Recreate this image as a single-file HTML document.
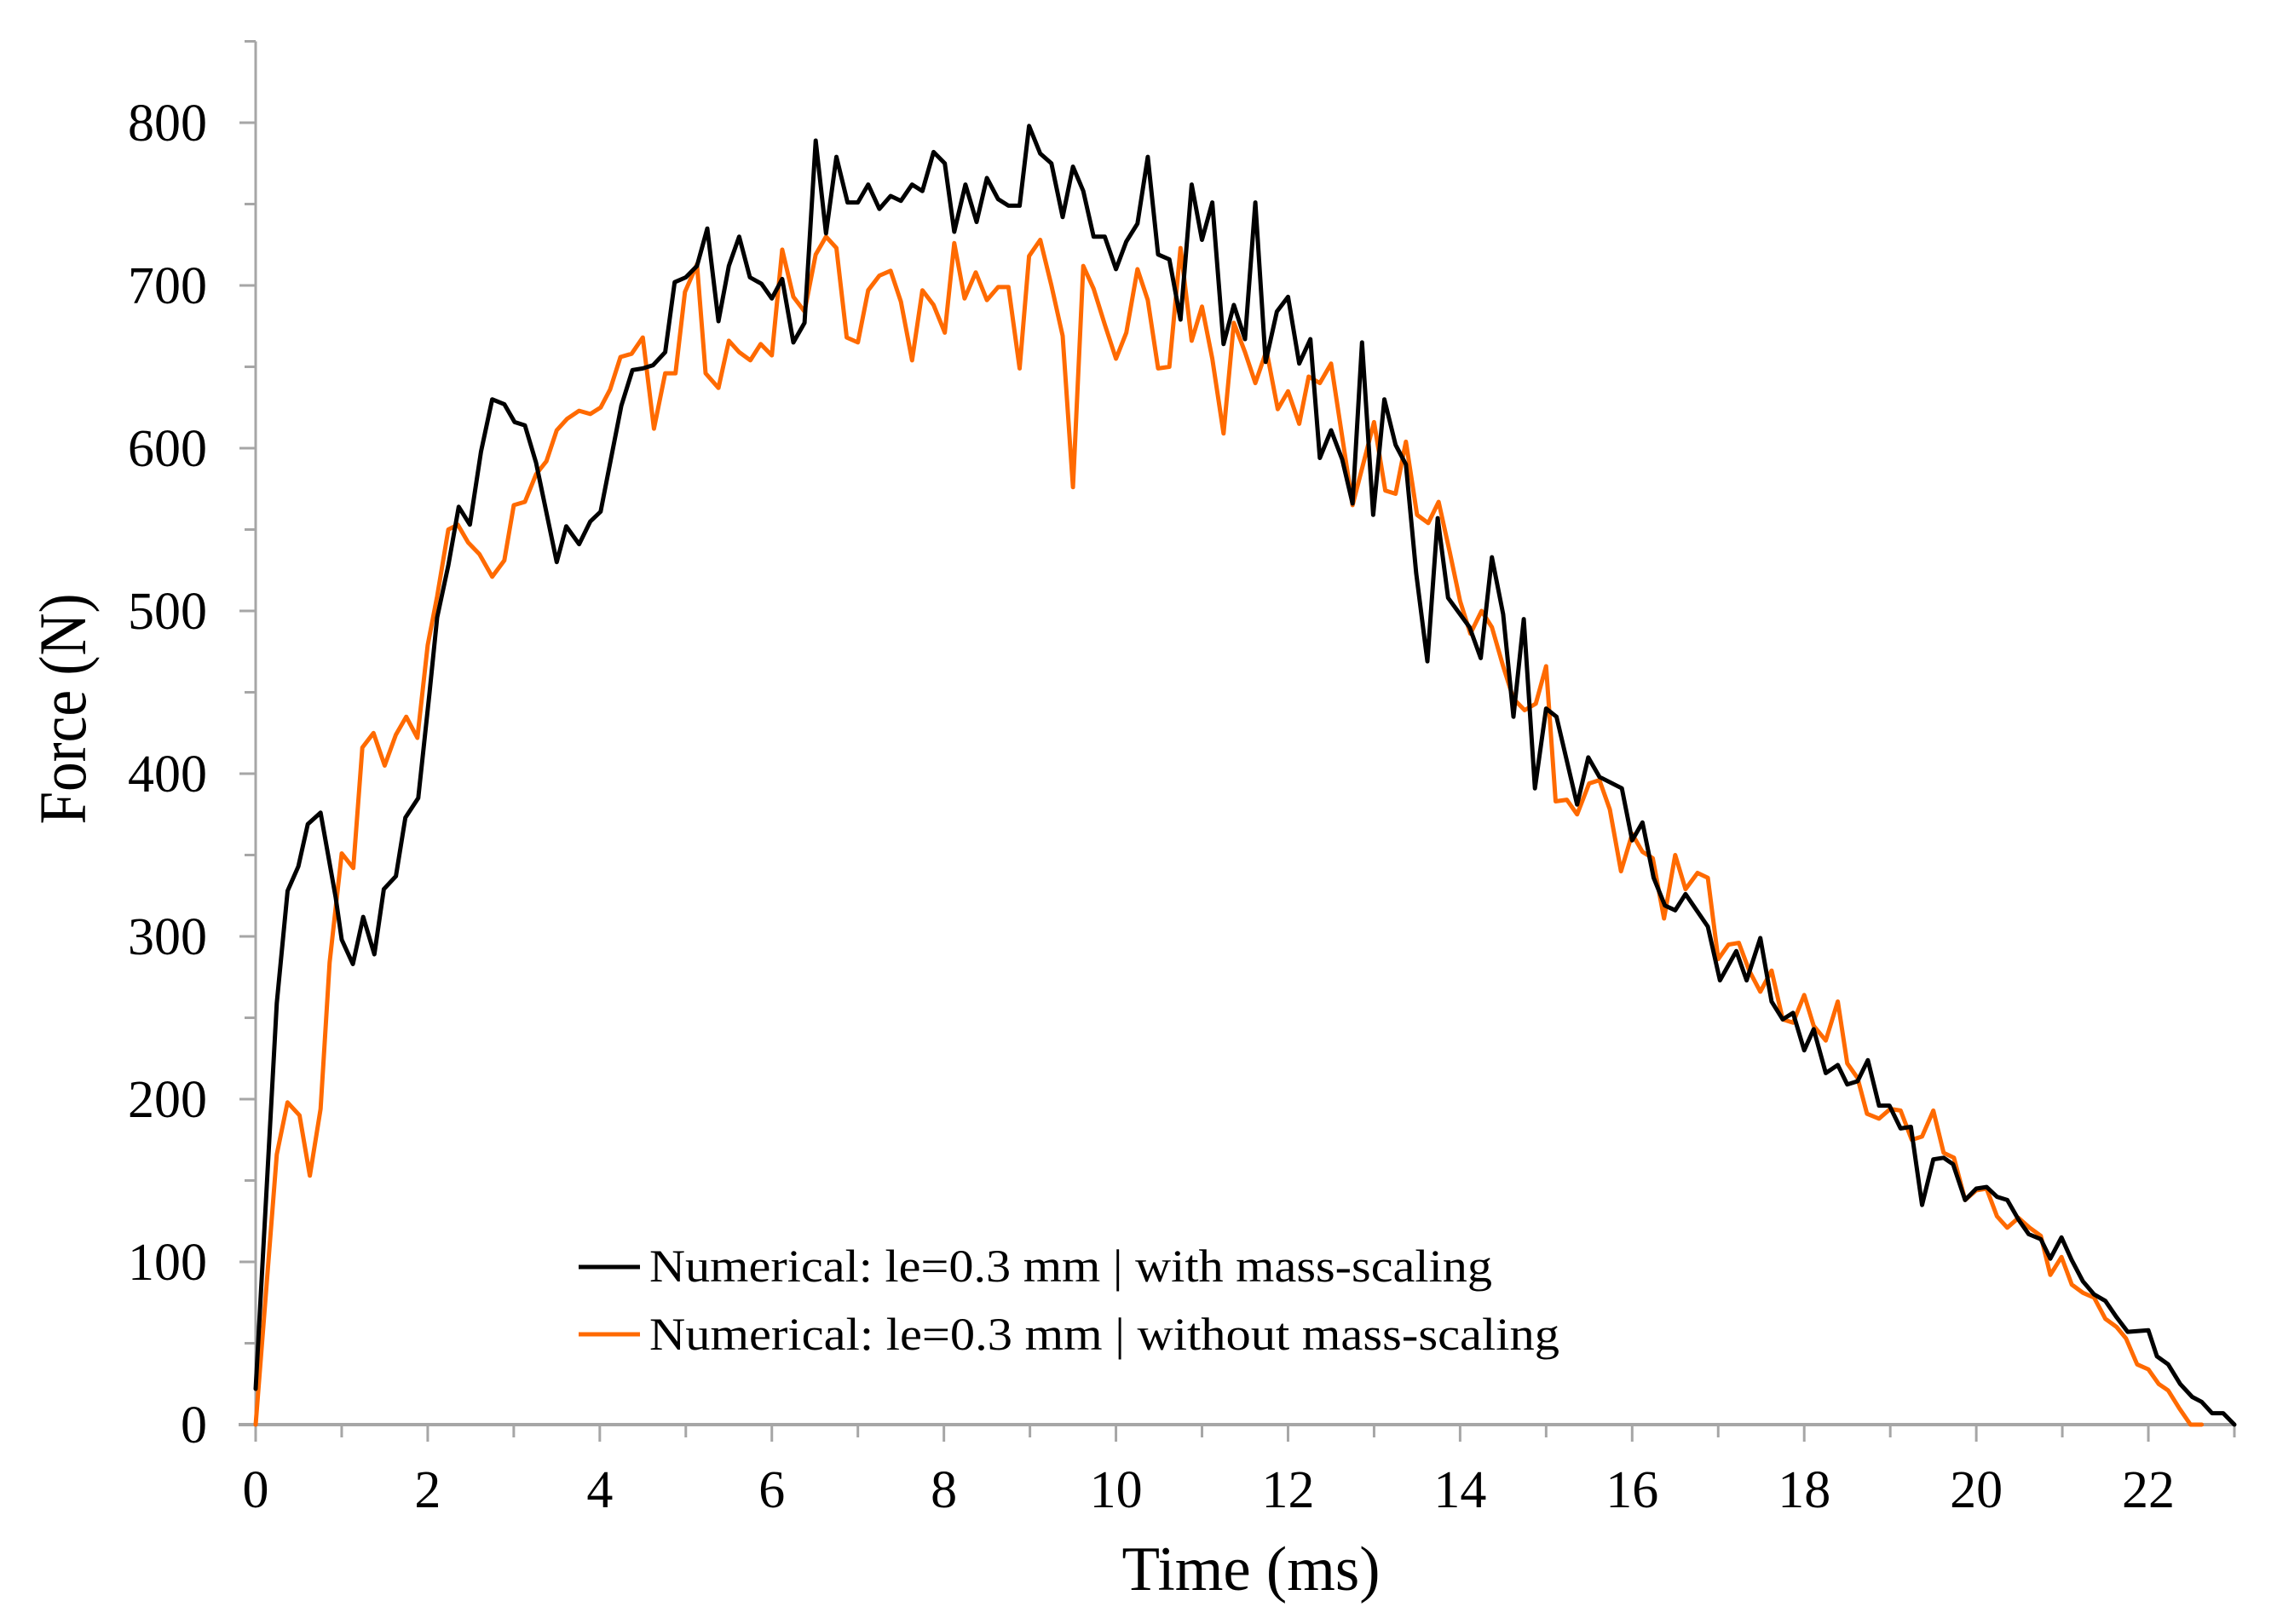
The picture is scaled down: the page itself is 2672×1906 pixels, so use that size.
<!DOCTYPE html>
<html><head><meta charset="utf-8"><style>
html,body{margin:0;padding:0;background:#fff;}
svg{display:block;font-family:"Liberation Serif",serif;}
</style></head><body>
<svg id="chart" width="2672" height="1906" viewBox="0 0 2672 1906" xmlns="http://www.w3.org/2000/svg">
<rect width="2672" height="1906" fill="#fff"/>
<g id="axes"></g>
<g id="series"></g>
<text x="1468" y="1866" font-size="74" text-anchor="middle" textLength="303" lengthAdjust="spacingAndGlyphs">Time (ms)</text>
<text transform="translate(100,832) rotate(-90)" font-size="78" text-anchor="middle" textLength="271" lengthAdjust="spacingAndGlyphs">Force (N)</text>
<g>
<line x1="679" y1="1487" x2="751" y2="1487" stroke="#000" stroke-width="5"/>
<text x="762" y="1504" font-size="54" textLength="989" lengthAdjust="spacingAndGlyphs">Numerical: le=0.3 mm | with mass-scaling</text>
<line x1="679" y1="1566" x2="751" y2="1566" stroke="#ff6a00" stroke-width="5"/>
<text x="762" y="1584" font-size="54" textLength="1068" lengthAdjust="spacingAndGlyphs">Numerical: le=0.3 mm | without mass-scaling</text>
</g>
</svg>
<script>
const xTicks = [0,2,4,6,8,10,12,14,16,18,20,22];
const yTicks = [0,100,200,300,400,500,600,700,800];
const blackT = [0,0.246,0.371,0.496,0.606,0.755,0.93,1.0,1.13,1.25,1.38,1.49,1.63,1.74,1.89,2.02,2.11,2.24,2.36,2.49,2.62,2.75,2.89,3.01,3.13,3.26,3.5,3.61,3.76,3.89,4.01,4.25,4.38,4.5,4.62,4.76,4.87,5.0,5.13,5.25,5.38,5.5,5.62,5.745,5.88,6.0,6.12,6.25,6.38,6.51,6.63,6.75,6.88,7.0,7.12,7.25,7.38,7.5,7.63,7.75,7.88,8.01,8.12,8.25,8.38,8.5,8.63,8.75,8.88,8.99,9.12,9.25,9.38,9.5,9.62,9.74,9.87,10.0,10.12,10.25,10.37,10.49,10.62,10.75,10.88,11.0,11.12,11.25,11.37,11.5,11.62,11.74,11.87,12.0,12.13,12.26,12.37,12.5,12.63,12.75,12.86,12.99,13.12,13.25,13.37,13.49,13.62,13.74,13.86,14.11,14.24,14.37,14.5,14.62,14.74,14.87,15.0,15.12,15.36,15.49,15.62,15.88,16.0,16.12,16.25,16.38,16.5,16.62,16.75,16.88,17.02,17.21,17.33,17.49,17.62,17.75,17.87,18.0,18.11,18.25,18.39,18.5,18.62,18.74,18.87,18.99,19.12,19.24,19.37,19.5,19.62,19.73,19.87,20.0,20.12,20.24,20.36,20.49,20.61,20.75,20.86,20.99,21.11,21.24,21.37,21.5,21.63,21.76,22.0,22.1,22.23,22.37,22.51,22.62,22.74,22.87,23.0];
const blackF = [22,259,328,343,369,376,324,298,283,312,289,329,337,373,385,449,496,528,564,553,598,630,627,616,614,591,530,552,541,555,561,626,648,649,651,659,702,705,712,735,678,712,730,705,701,692,704,665,677,789,732,779,751,751,762,747,755,752,762,758,782,775,733,762,739,766,753,749,749,798,781,775,742,773,758,730,730,710,727,738,779,719,716,679,762,728,751,664,688,667,751,653,684,693,652,667,594,611,593,566,665,559,630,602,590,523,469,557,508,490,471,533,498,435,495,391,440,435,381,410,398,391,359,370,336,319,316,326,316,306,273,291,273,299,260,249,253,230,243,216,221,209,211,224,196,196,182,183,135,163,164,160,138,145,146,140,138,126,117,114,102,115,101,88,80,76,66,57,58,42,37,25,17,14,7,7,0];
const orangeT = [0,0.246,0.37,0.51,0.63,0.755,0.86,1.0,1.135,1.24,1.37,1.5,1.63,1.75,1.88,2.0,2.11,2.24,2.35,2.47,2.6,2.75,2.89,3.0,3.13,3.26,3.38,3.5,3.62,3.76,3.89,4.01,4.12,4.24,4.37,4.5,4.63,4.76,4.88,4.99,5.13,5.23,5.38,5.5,5.62,5.75,5.87,6.0,6.12,6.25,6.38,6.51,6.63,6.75,6.87,7.0,7.12,7.25,7.38,7.5,7.63,7.75,7.88,8.01,8.12,8.24,8.37,8.5,8.63,8.75,8.88,8.99,9.12,9.25,9.38,9.5,9.62,9.74,9.87,10.0,10.12,10.25,10.37,10.49,10.62,10.75,10.88,11.0,11.12,11.25,11.37,11.5,11.62,11.75,11.88,12.0,12.13,12.24,12.37,12.5,12.75,13.0,13.13,13.25,13.37,13.5,13.63,13.75,13.88,14.0,14.12,14.25,14.37,14.5,14.62,14.75,14.88,15.0,15.11,15.24,15.36,15.5,15.62,15.74,15.87,16.0,16.12,16.24,16.37,16.5,16.62,16.76,16.88,17.0,17.12,17.24,17.36,17.49,17.62,17.75,17.87,18.0,18.11,18.25,18.39,18.5,18.62,18.73,18.87,19.0,19.12,19.25,19.37,19.5,19.62,19.74,19.87,20.0,20.12,20.24,20.36,20.49,20.62,20.75,20.86,20.99,21.11,21.24,21.37,21.5,21.63,21.74,21.87,22.0,22.12,22.23,22.36,22.49,22.62];
const orangeF = [0,166,198,190,153,194,284,351,342,416,425,405,424,435,422,479,509,550,553,542,535,521,531,565,567,584,592,611,618,623,621,625,636,656,658,668,612,646,646,696,713,646,637,666,659,654,664,657,722,693,684,719,730,723,668,665,697,706,709,690,654,697,688,671,726,692,708,691,699,699,649,718,728,700,669,576,712,698,676,655,671,710,691,649,650,723,666,687,655,609,677,659,640,660,624,635,615,644,640,652,565,616,574,572,604,559,554,567,536,506,486,500,490,466,446,439,443,466,383,384,375,394,396,378,340,363,352,348,311,350,329,339,336,286,295,296,279,266,279,249,247,264,245,236,260,222,213,191,188,194,193,175,177,193,167,164,138,144,145,128,121,127,121,116,92,103,86,81,78,65,60,53,37,34,25,21,10,0,0];

const X0=300, PX_PER_MS=(2622-300)/23, Y0=1672, PX_PER_N=1.91;
function xs(t){return X0+t*PX_PER_MS;}
function ys(f){return Y0-f*PX_PER_N;}
const NS='http://www.w3.org/2000/svg';
const axes=document.getElementById('axes');
const AX='#a6a6a6';
function mk(tag,attrs,parent){const e=document.createElementNS(NS,tag);for(const k in attrs)e.setAttribute(k,attrs[k]);parent.appendChild(e);return e;}

// y axis line
let yl=mk('line',{x1:X0,y1:ys(850),x2:X0,y2:Y0+20,stroke:AX,'stroke-width':3},axes);


let xl=mk('line',{x1:X0-20,y1:Y0,x2:xs(23),y2:Y0,stroke:AX,'stroke-width':4},axes);



// y ticks (major every 100, minor every 50)
for(let v=0;v<=850;v+=50){
  const major=v%100===0;
  const t=mk('line',{x1:major?X0-19:X0-13,y1:ys(v),x2:X0,y2:ys(v),stroke:AX,'stroke-width':3},axes);
  
  
}
yTicks.forEach(v=>{
  const tx=mk('text',{x:243,y:ys(v)+21,'font-size':62,'text-anchor':'end',fill:'#000'},axes);
  tx.textContent=String(v);
  
  
});
// x ticks every 1 ms
for(let v=0;v<=23;v++){
  const major=v%2===0;
  const t=mk('line',{x1:xs(v),y1:Y0,x2:xs(v),y2:major?Y0+20:Y0+15,stroke:AX,'stroke-width':3},axes);
  
  
}
xTicks.forEach(v=>{
  const tx=mk('text',{x:xs(v),y:1769,'font-size':62,'text-anchor':'middle',fill:'#000'},axes);
  tx.textContent=String(v);
  
  
});

const sg=document.getElementById('series');
function drawLine(T,F,color,name){
  const d=T.map((t,i)=>(i?'L':'M')+xs(t).toFixed(1)+','+ys(F[i]).toFixed(1)).join(' ');
  const p=mk('path',{d:d,fill:'none',stroke:color,'stroke-width':5,'stroke-linejoin':'round','stroke-linecap':'round'},sg);
  
  
}
drawLine(orangeT,orangeF,'#ff6a00','line-without-mass-scaling');
drawLine(blackT,blackF,'#000000','line-with-mass-scaling');
</script>
</body></html>
